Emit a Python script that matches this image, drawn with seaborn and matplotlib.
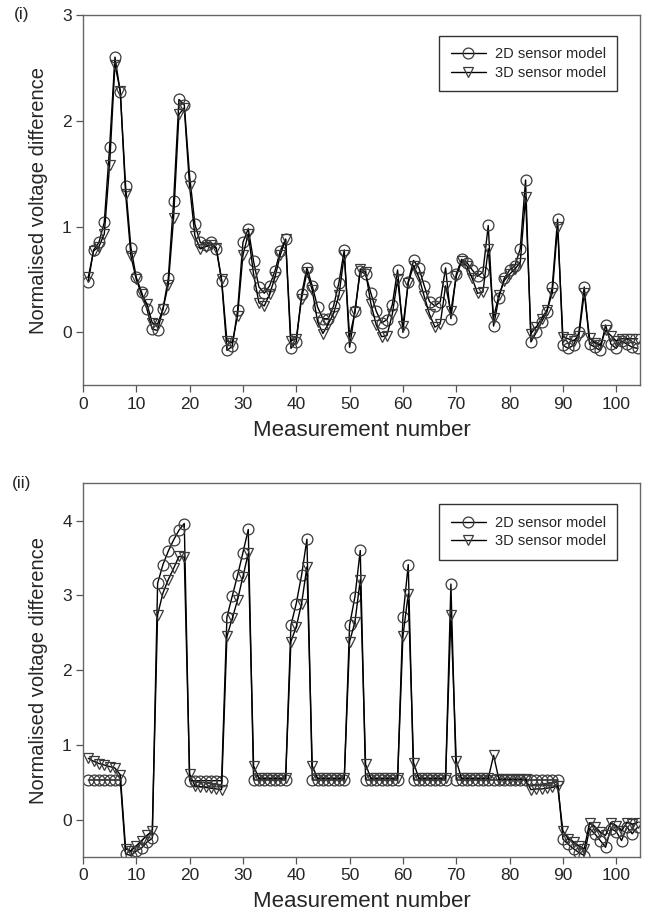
import numpy as np
import pandas as pd
import seaborn as sns
import matplotlib.pyplot as plt
from matplotlib.lines import Line2D

# measurement index shared by both panels
measurement = list(range(1, 105))

# panel (i)
top_2d = [0.48, 0.78, 0.85, 1.04, 1.75, 2.60, 2.27, 1.38, 0.80, 0.52,
          0.38, 0.22, 0.03, 0.02, 0.22, 0.51, 1.24, 2.20, 2.15, 1.48,
          1.02, 0.85, 0.83, 0.85, 0.79, 0.49, -0.17, -0.13, 0.21, 0.85,
          0.98, 0.67, 0.43, 0.37, 0.44, 0.58, 0.77, 0.88, -0.15, -0.09,
          0.36, 0.61, 0.44, 0.24, 0.13, 0.13, 0.25, 0.47, 0.78, -0.14,
          0.20, 0.58, 0.55, 0.37, 0.20, 0.09, 0.12, 0.26, 0.59, 0.00,
          0.48, 0.68, 0.61, 0.44, 0.29, 0.25, 0.29, 0.61, 0.13, 0.55,
          0.69, 0.66, 0.59, 0.53, 0.57, 1.01, 0.06, 0.33, 0.51, 0.59,
          0.63, 0.79, 1.44, -0.09, 0.00, 0.10, 0.19, 0.43, 1.07, -0.12,
          -0.15, -0.12, 0.00, 0.43, -0.11, -0.14, -0.17, 0.07, -0.11, -0.15,
          -0.08, -0.11, -0.14, -0.15]
top_3d = [0.52, 0.77, 0.81, 0.93, 1.58, 2.53, 2.28, 1.31, 0.72, 0.50,
          0.36, 0.27, 0.09, 0.08, 0.22, 0.45, 1.08, 2.06, 2.12, 1.38,
          0.91, 0.79, 0.81, 0.83, 0.80, 0.50, -0.08, -0.10, 0.16, 0.73,
          0.93, 0.55, 0.28, 0.25, 0.36, 0.52, 0.73, 0.88, -0.08, -0.06,
          0.32, 0.57, 0.40, 0.10, -0.01, 0.08, 0.18, 0.35, 0.73, -0.04,
          0.19, 0.60, 0.57, 0.27, 0.07, -0.04, -0.03, 0.17, 0.50, 0.06,
          0.47, 0.63, 0.52, 0.34, 0.17, 0.05, 0.08, 0.44, 0.20, 0.53,
          0.67, 0.63, 0.51, 0.37, 0.38, 0.79, 0.14, 0.35, 0.49, 0.55,
          0.60, 0.66, 1.28, -0.01, 0.05, 0.13, 0.21, 0.37, 1.00, -0.04,
          -0.06, -0.08, -0.03, 0.37, -0.05, -0.10, -0.12, 0.02, -0.03, -0.08,
          -0.06, -0.06, -0.06, -0.06]

# panel (ii)
bot_2d = [0.53, 0.53, 0.53, 0.53, 0.53, 0.53, 0.53, -0.46, -0.48, -0.42,
          -0.38, -0.30, -0.25, 3.16, 3.41, 3.59, 3.74, 3.87, 3.96, 0.52,
          0.52, 0.52, 0.52, 0.52, 0.52, 0.52, 2.71, 2.99, 3.27, 3.57,
          3.88, 0.53, 0.53, 0.53, 0.53, 0.53, 0.53, 0.53, 2.60, 2.89,
          3.27, 3.75, 0.53, 0.53, 0.53, 0.53, 0.53, 0.53, 0.53, 2.60,
          2.98, 3.60, 0.53, 0.53, 0.53, 0.53, 0.53, 0.53, 0.53, 2.71,
          3.41, 0.53, 0.53, 0.53, 0.53, 0.53, 0.53, 0.53, 3.15, 0.53,
          0.53, 0.53, 0.53, 0.53, 0.53, 0.53, 0.53, 0.53, 0.53, 0.53,
          0.53, 0.53, 0.53, 0.53, 0.53, 0.53, 0.53, 0.53, 0.53, -0.26,
          -0.33, -0.39, -0.44, -0.48, -0.12, -0.19, -0.28, -0.37, -0.12, -0.16,
          -0.28, -0.10, -0.19, -0.10]
bot_3d = [0.82, 0.78, 0.75, 0.73, 0.71, 0.69, 0.60, -0.39, -0.42, -0.35,
          -0.28, -0.21, -0.15, 2.74, 3.03, 3.21, 3.36, 3.52, 3.51, 0.61,
          0.45, 0.44, 0.43, 0.42, 0.41, 0.40, 2.45, 2.69, 2.94, 3.25,
          3.56, 0.72, 0.55, 0.55, 0.55, 0.55, 0.55, 0.55, 2.38, 2.58,
          2.89, 3.38, 0.72, 0.55, 0.55, 0.55, 0.55, 0.55, 0.55, 2.38,
          2.64, 3.21, 0.74, 0.55, 0.55, 0.55, 0.55, 0.55, 0.55, 2.45,
          3.02, 0.76, 0.55, 0.55, 0.55, 0.55, 0.55, 0.55, 2.74, 0.79,
          0.55, 0.55, 0.55, 0.55, 0.55, 0.55, 0.86, 0.54, 0.54, 0.54,
          0.54, 0.54, 0.54, 0.40, 0.41, 0.41, 0.42, 0.43, 0.45, -0.15,
          -0.26, -0.30, -0.35, -0.39, -0.04, -0.10, -0.17, -0.21, -0.04, -0.08,
          -0.15, -0.04, -0.06, -0.04]

labels = ["2D sensor model", "3D sensor model"]
panels = [("(i)", top_2d, top_3d, (-0.5, 3), [0, 1, 2, 3]),
          ("(ii)", bot_2d, bot_3d, (-0.5, 4.5), [0, 1, 2, 3, 4])]

sns.set_style("white")
plt.rcParams["font.family"] = ["Liberation Sans", "DejaVu Sans"]

fig = plt.figure(figsize=(6.48, 9.22), dpi=100)
rects = [[0.128, 0.582, 0.860, 0.402], [0.128, 0.0705, 0.860, 0.4055]]
edge = "#3a3a3a"
marks = {labels[0]: "o", labels[1]: "v"}

for rect, (tag, s2d, s3d, ylim, yticks) in zip(rects, panels):
    ax = fig.add_axes(rect)
    df = pd.DataFrame({"n": measurement * 2,
                       "value": s2d + s3d,
                       "model": [labels[0]] * len(s2d) + [labels[1]] * len(s3d)})
    sns.lineplot(data=df, x="n", y="value", style="model", markers=marks,
                 dashes=False, color="black", linewidth=1.0, markersize=7.8,
                 markerfacecolor="none", markeredgecolor=edge,
                 markeredgewidth=0.9, legend=False, ax=ax)
    ax.set_xlim(0, 104.5)
    ax.set_ylim(*ylim)
    ax.set_xticks(range(0, 101, 10))
    ax.set_yticks(yticks)
    ax.tick_params(axis="both", which="both", direction="out", length=5,
                   width=0.9, color="#555555", labelsize=12.5, pad=3,
                   bottom=True, left=True)
    for sp in ax.spines.values():
        sp.set_color("#666666")
        sp.set_linewidth(1.0)
    ax.set_xlabel("Measurement number", fontsize=16, labelpad=6)
    ax.set_ylabel("Normalised voltage difference", fontsize=14.5, labelpad=10)
    handles = [Line2D([], [], color="black", lw=1.0, marker=marks[l], ms=7.8,
                      mfc="none", mec=edge, mew=0.9) for l in labels]
    leg = ax.legend(handles, labels, loc="upper right",
                    bbox_to_anchor=(0.972, 0.963), fontsize=10.5,
                    frameon=True, fancybox=False, handlelength=2.4,
                    labelspacing=0.3, borderpad=0.8, handletextpad=0.6)
    leg.get_frame().set_edgecolor("black")
    leg.get_frame().set_linewidth(1.0)
    ax.text(-0.11, 1.0, tag, transform=ax.transAxes, fontsize=12.5,
            ha="center", va="center")

fig.savefig("out.png", dpi=100)
